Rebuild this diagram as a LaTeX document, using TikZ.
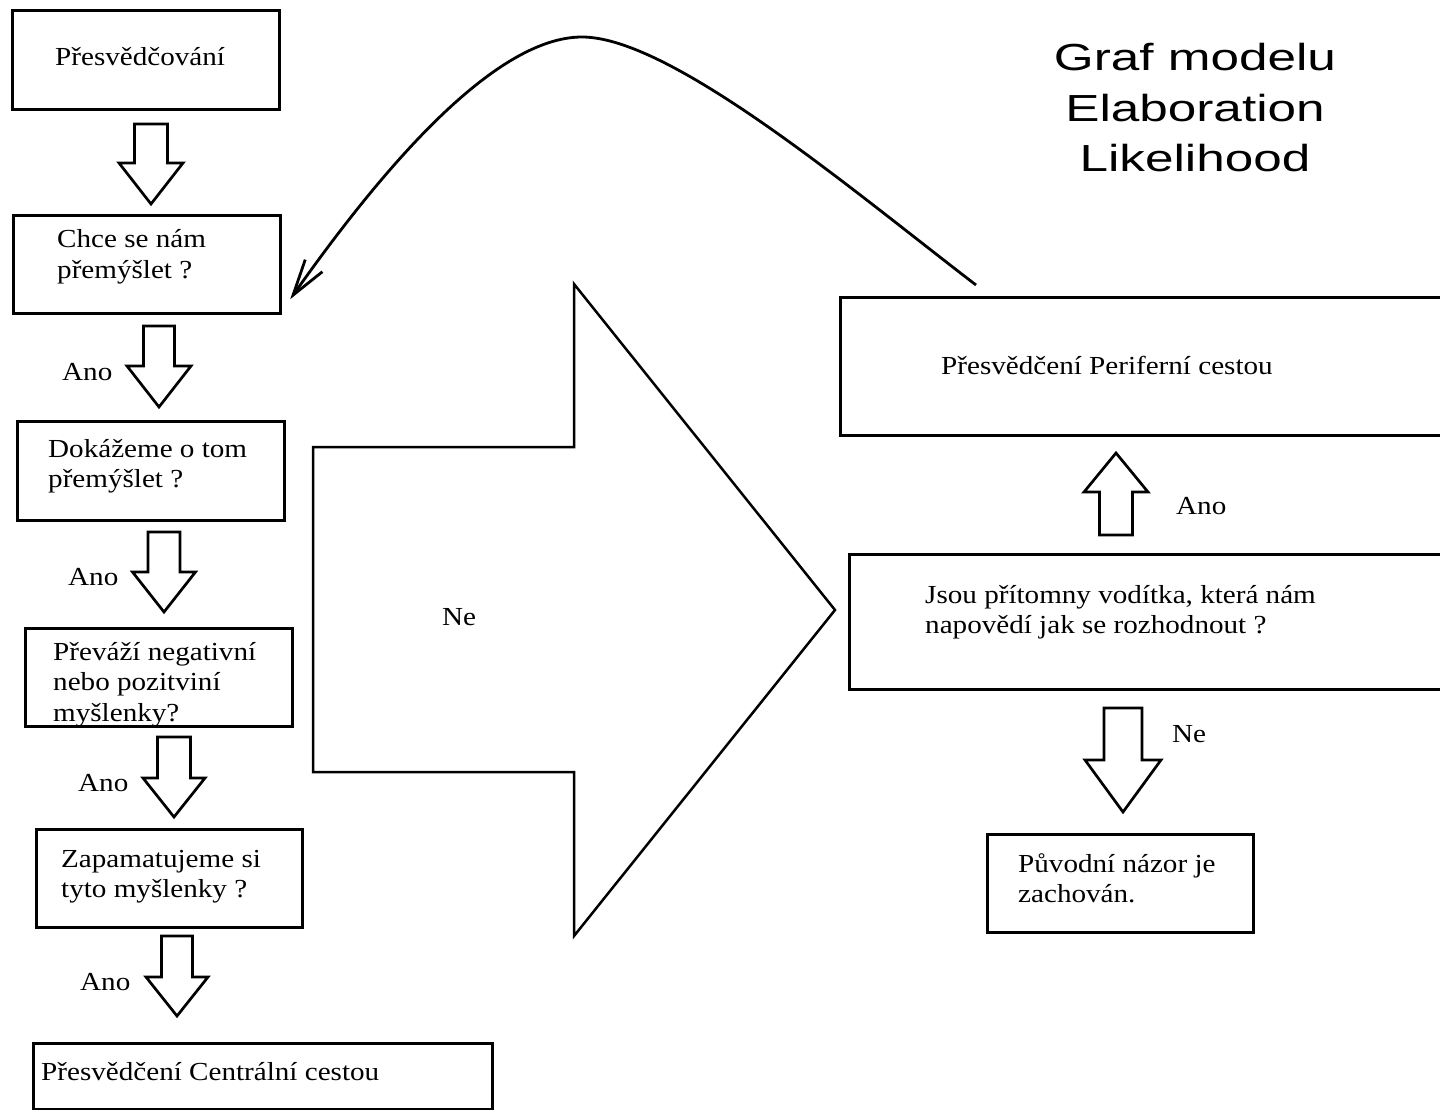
\documentclass[tikz,border=0pt]{standalone}
\usepackage{fontspec}
\setmainfont{Liberation Serif}[FakeStretch=1.12]
\newfontfamily\nadpis{Liberation Sans}[FakeStretch=1.36]
\usetikzlibrary{arrows.meta,calc}

\begin{document}
\begin{tikzpicture}[x=1pt,y=1pt,yscale=-1,
  ramecek/.style={draw, line width=3.2pt, inner sep=0pt, anchor=north west},
  popis/.style={anchor=base west, inner sep=0pt, align=left, font=\fontsize{26}{30.5}\selectfont},
  sipka/.style={draw, line width=2.7pt, miter limit=20},
  zpetna/.style={line width=2.8pt, -{Straight Barb[length=36pt,width=21pt]}}]
\useasboundingbox (0,0) rectangle (1440,1110);

%Boxes - left column
\node [ramecek, minimum width=267pt, minimum height=99pt] (presvedcovani) at (11,9) {};
\node [ramecek, minimum width=267pt, minimum height=98pt] (chce) at (12,214) {};
\node [ramecek, minimum width=267pt, minimum height=99pt] (dokazeme) at (16,420) {};
\node [ramecek, minimum width=267pt, minimum height=98pt] (prevazi) at (24,627) {};
\node [ramecek, minimum width=266pt, minimum height=98pt] (zapamatujeme) at (35,828) {};
\node [ramecek, minimum width=459pt, minimum height=66pt] (centralni) at (32,1042) {};

%Boxes - right column
\node [ramecek, minimum width=611pt, minimum height=138pt] (periferni) at (839,296) {};
\node [ramecek, minimum width=602pt, minimum height=135pt] (voditka) at (848,553) {};
\node [ramecek, minimum width=266pt, minimum height=98pt] (puvodni) at (986,833) {};

% Text Nodes (base = last line)
\node [popis] (presvedcovani-t) at (55,66) {Přesvědčování};
\node [popis] (chce-t) at (57,278) {Chce se nám\\přemýšlet ?};
\node [popis] (dokazeme-t) at (48,487.5) {Dokážeme o tom\\přemýšlet ?};
\node [popis] (prevazi-t) at (53,721) {Převáží negativní\\nebo pozitviní\\myšlenky?};
\node [popis] (zapamatujeme-t) at (61,897.5) {Zapamatujeme si\\tyto myšlenky ?};
\node [popis] (centralni-t) at (41,1080) {Přesvědčení Centrální cestou};
\node [popis] (periferni-t) at (941,374) {Přesvědčení Periferní cestou};
\node [popis] (voditka-t) at (925,633.5) {Jsou přítomny vodítka, která nám\\napovědí jak se rozhodnout ?};
\node [popis] (puvodni-t) at (1018,902.5) {Původní názor je\\zachován.};

\node [popis] (ano1) at (62,380) {Ano};
\node [popis] (ano2) at (68,585) {Ano};
\node [popis] (ano3) at (78,791) {Ano};
\node [popis] (ano4) at (80,990) {Ano};
\node [popis] (ano5) at (1176,514) {Ano};
\node [popis] (ne1) at (442,625) {Ne};
\node [popis] (ne2) at (1172,742) {Ne};

\node [inner sep=0pt, anchor=base, align=center, font=\nadpis\fontsize{37.7}{50.5}\selectfont] (nadpis) at (1195,171.7) {Graf modelu\\Elaboration\\Likelihood};

%Block arrows: centre x / start y / half shaft / half head / shaft length / total length
\foreach \x/\y/\s/\h/\d/\l in {151/124/16.5/32/39/80, 159/326/15.5/32/40/81, 164/532/16/31.5/40/80,
    174/737/16.5/31/41/80, 177/936/15.5/31/41/80, 1123/708/19/38/52/104, 1116/535/16.5/32/-43/-82}
  \draw [sipka] (\x-\s,\y) -- (\x+\s,\y) -- (\x+\s,\y+\d) -- (\x+\h,\y+\d) -- (\x,\y+\l)
    -- (\x-\h,\y+\d) -- (\x-\s,\y+\d) -- cycle;

%Big arrow "Ne"
\draw [line width=2.5pt, miter limit=20] (313,447) -- (574,447) -- (574,284) -- (835,610) -- (574,936) -- (574,772) -- (313,772) -- cycle;

%Curve back to the question
\coordinate (zpet) at ($(periferni.north west)+(137,-11)$);
\coordinate (cil) at ($(chce.south east)+(8,-16)$);
\draw [zpetna] (zpet) .. controls (857,194) and (672,37) .. (582,37) .. controls (492,37) and (377,176) .. (cil);

\end{tikzpicture}
\end{document}
